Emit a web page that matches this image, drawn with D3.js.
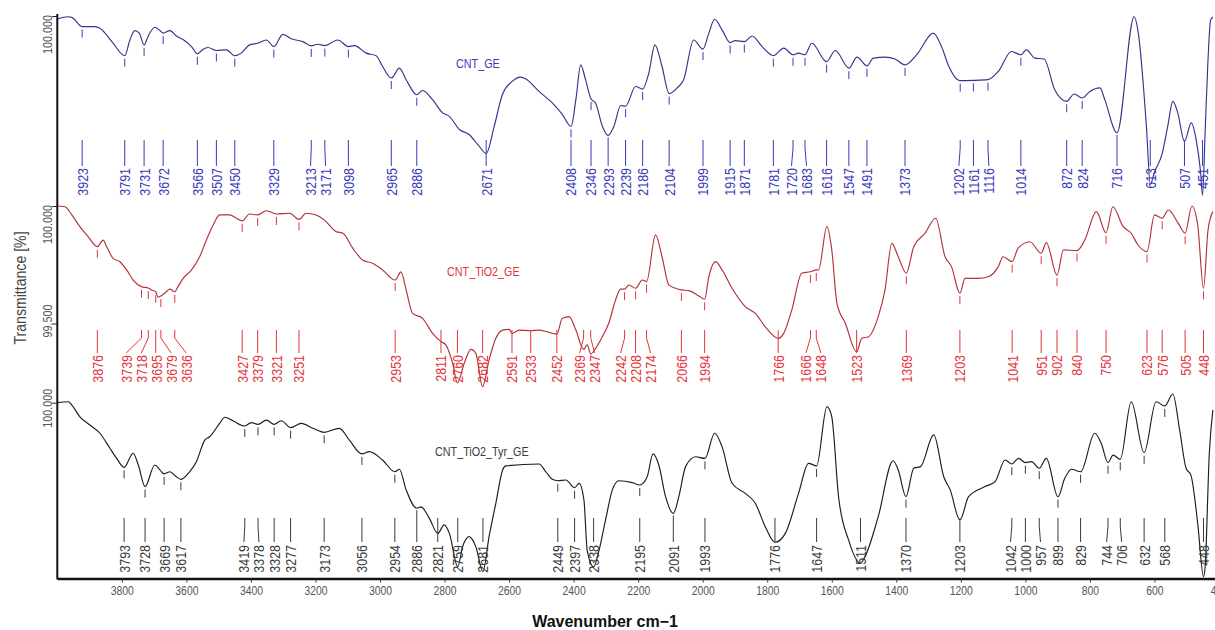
<!DOCTYPE html>
<html>
<head>
<meta charset="utf-8">
<script src="https://cdn.jsdelivr.net/npm/d3@7"></script>
<style>
  html, body { margin: 0; padding: 0; background: #fff; }
  svg { display: block; }
  text { font-family: "Liberation Sans", Arial, sans-serif; }
</style>
</head>
<body>
<svg id="chart" width="1215" height="630"></svg>
<script>
// ---- wavenumber axis ----
const xTicks = [3800, 3600, 3400, 3200, 3000, 2800, 2600, 2400, 2200, 2000, 1800, 1600, 1400, 1200, 1000, 800, 600, 400];
const seriesNames = ["CNT_GE", "CNT_TiO2_GE", "CNT_TiO2_Tyr_GE"];

// ---- CNT_GE spectrum (wavenumber, %T) ----
const geWave = [4000,3967,3955,3923,3883,3868,3828,3791,3775,3760,3746,3731,3719,3698,3682,3672,3651,3631,3605,3584,3566,3548,3533,3507,3476,3450,3430,3404,3379,3352,3329,3301,3275,3239,3213,3193,3171,3131,3098,3079,3043,3012,2992,2965,2940,2919,2886,2868,2837,2806,2785,2754,2724,2693,2671,2646,2621,2590,2564,2548,2507,2466,2435,2408,2393,2378,2363,2346,2332,2311,2293,2275,2254,2239,2208,2186,2167,2148,2126,2104,2079,2059,2028,1999,1981,1963,1940,1915,1899,1871,1847,1816,1781,1749,1720,1703,1683,1662,1616,1589,1547,1522,1491,1471,1435,1404,1373,1337,1285,1260,1237,1213,1202,1161,1116,1084,1043,1014,997,971,942,909,872,849,824,800,769,754,716,663,650,625,613,600,575,559,543,528,507,486,471,457,451,443,435,426,419];
const geT = [99.987,99.997,99.994,99.955,99.955,99.948,99.886,99.831,99.898,99.938,99.927,99.877,99.912,99.952,99.938,99.927,99.938,99.915,99.895,99.870,99.839,99.859,99.866,99.853,99.856,99.831,99.842,99.877,99.884,99.898,99.870,99.922,99.903,99.891,99.873,99.880,99.874,99.898,99.870,99.874,99.842,99.831,99.785,99.736,99.778,99.729,99.665,99.683,99.644,99.588,99.573,99.517,99.496,99.446,99.415,99.531,99.665,99.722,99.740,99.732,99.679,99.630,99.581,99.530,99.644,99.792,99.729,99.647,99.630,99.531,99.492,99.531,99.619,99.616,99.700,99.689,99.757,99.877,99.785,99.670,99.694,99.729,99.898,99.859,99.927,99.986,99.941,99.887,99.895,99.891,99.915,99.870,99.831,99.863,99.835,99.842,99.835,99.884,99.806,99.853,99.778,99.825,99.788,99.821,99.825,99.817,99.792,99.835,99.927,99.870,99.785,99.732,99.725,99.726,99.729,99.764,99.849,99.835,99.856,99.821,99.817,99.686,99.637,99.668,99.651,99.679,99.694,99.644,99.503,99.997,99.927,99.531,99.284,99.335,99.420,99.530,99.637,99.589,99.467,99.545,99.475,99.335,99.237,99.504,99.785,99.983,99.996];
const gePeaks = [3923,3791,3731,3672,3566,3507,3450,3329,3213,3171,3098,2965,2886,2671,2408,2346,2293,2239,2186,2104,1999,1915,1871,1781,1720,1683,1616,1547,1491,1373,1202,1161,1116,1014,872,824,716,613,507,451];

// ---- CNT_TiO2_GE spectrum ----
const tio2Wave = [4000,3976,3955,3930,3904,3876,3858,3847,3827,3806,3785,3765,3739,3718,3708,3695,3688,3679,3667,3651,3636,3626,3610,3584,3559,3538,3517,3497,3466,3445,3427,3404,3379,3352,3321,3280,3251,3229,3198,3172,3136,3115,3084,3054,3023,2992,2953,2935,2919,2899,2868,2837,2811,2796,2775,2760,2739,2718,2703,2682,2662,2641,2620,2600,2591,2569,2533,2507,2452,2435,2414,2393,2369,2358,2347,2332,2311,2291,2270,2254,2242,2229,2208,2187,2174,2146,2126,2105,2084,2066,2043,2012,1994,1981,1960,1940,1909,1868,1837,1806,1766,1749,1724,1693,1666,1648,1641,1615,1600,1584,1558,1523,1507,1486,1456,1435,1414,1394,1369,1346,1311,1278,1249,1229,1203,1187,1146,1115,1084,1069,1041,1023,986,951,935,902,882,840,816,780,750,729,697,672,651,623,600,576,557,526,505,484,466,448,434,419];
const tio2T = [100.000,99.997,99.962,99.912,99.869,99.827,99.855,99.827,99.777,99.763,99.728,99.685,99.657,99.651,99.643,99.635,99.612,99.617,99.629,99.646,99.635,99.657,99.692,99.728,99.784,99.855,99.919,99.962,99.962,99.948,99.937,99.966,99.962,99.980,99.966,99.969,99.943,99.969,99.962,99.940,99.891,99.884,99.820,99.770,99.756,99.728,99.685,99.720,99.643,99.543,99.522,99.458,99.423,99.409,99.331,99.247,99.331,99.390,99.373,99.231,99.345,99.437,99.472,99.475,99.458,99.472,99.469,99.472,99.455,99.522,99.529,99.472,99.390,99.409,99.370,99.394,99.444,99.501,99.600,99.646,99.646,99.664,99.650,99.685,99.678,99.877,99.784,99.664,99.650,99.643,99.640,99.617,99.603,99.699,99.763,99.728,99.650,99.572,99.543,99.486,99.437,99.458,99.557,99.714,99.720,99.728,99.728,99.912,99.813,99.586,99.501,99.380,99.437,99.444,99.529,99.643,99.841,99.784,99.714,99.827,99.884,99.948,99.784,99.742,99.629,99.692,99.692,99.699,99.742,99.784,99.763,99.820,99.848,99.799,99.844,99.706,99.813,99.810,99.855,99.976,99.886,99.997,99.912,99.884,99.834,99.806,99.962,99.948,99.983,99.926,99.884,100.000,99.919,99.650,99.898,99.976];
const tio2Peaks = [3876,3739,3718,3695,3679,3636,3427,3379,3321,3251,2953,2811,2760,2682,2591,2533,2452,2369,2347,2242,2208,2174,2066,1994,1766,1666,1648,1523,1369,1203,1041,951,902,840,750,623,576,505,448];

// ---- CNT_TiO2_Tyr_GE spectrum ----
const tyrWave = [4000,3966,3955,3930,3899,3868,3837,3816,3793,3765,3749,3728,3698,3682,3669,3651,3631,3617,3590,3569,3543,3528,3497,3481,3456,3419,3399,3378,3352,3328,3306,3277,3244,3208,3173,3126,3095,3056,3033,2992,2954,2940,2919,2886,2873,2847,2821,2801,2785,2759,2744,2724,2703,2681,2662,2641,2620,2610,2507,2486,2466,2449,2424,2397,2383,2368,2358,2338,2321,2301,2280,2260,2218,2195,2172,2154,2136,2115,2091,2074,2053,2022,1993,1963,1940,1909,1868,1837,1806,1776,1744,1703,1672,1647,1615,1600,1579,1548,1511,1497,1456,1410,1394,1370,1346,1325,1284,1253,1233,1203,1176,1125,1094,1063,1042,1021,1000,981,957,935,899,878,857,829,785,765,744,728,706,672,632,595,568,543,522,502,487,466,448,443,430,419];
const tyrT = [100.000,100.004,99.990,99.940,99.905,99.870,99.806,99.763,99.725,99.785,99.735,99.643,99.735,99.714,99.697,99.706,99.685,99.674,99.706,99.749,99.841,99.855,99.912,99.938,99.923,99.901,99.915,99.908,99.926,99.908,99.923,99.894,99.912,99.891,99.874,99.891,99.841,99.782,99.792,99.756,99.706,99.717,99.629,99.551,99.557,99.508,99.444,99.480,99.444,99.302,99.387,99.430,99.387,99.281,99.430,99.572,99.714,99.731,99.739,99.706,99.674,99.668,99.671,99.638,99.657,99.586,99.373,99.302,99.373,99.501,99.629,99.668,99.660,99.650,99.685,99.782,99.735,99.600,99.529,99.600,99.728,99.770,99.763,99.870,99.813,99.657,99.614,99.572,99.472,99.406,99.444,99.614,99.742,99.731,99.983,99.940,99.600,99.416,99.317,99.345,99.515,99.753,99.714,99.600,99.721,99.728,99.863,99.685,99.629,99.501,99.600,99.643,99.664,99.756,99.739,99.763,99.745,99.749,99.721,99.763,99.600,99.678,99.717,99.706,99.870,99.827,99.745,99.777,99.759,100.004,99.787,100.004,99.986,100.037,99.884,99.721,99.692,99.487,99.260,99.302,99.785,99.969];
const tyrPeaks = [3793,3728,3669,3617,3419,3378,3328,3277,3173,3056,2954,2886,2821,2759,2681,2449,2397,2338,2195,2091,1993,1776,1647,1511,1370,1203,1042,1000,957,899,829,744,706,632,568,448];

// ---- layout / style ----
const W = 1215, H = 630;
const axisX = 57.3, axisY = 578.5;
const PX_PER_PCT = 235;           // vertical pixels per 1 %T
const CONDENSE = 0.83;            // horizontal squeeze of all labels

const panels = [
  { name: seriesNames[0], wave: geWave, t: geT, peaks: gePeaks,
    top: 16, ticks: [100], tickShift: [18],
    curve: "#34348e", ink: "#3a3ab8",
    nameX: 456, nameY: 68,
    lineTop: 140, lineBottom: 166, textTop: 168 },
  { name: seriesNames[1], wave: tio2Wave, t: tio2T, peaks: tio2Peaks,
    top: 206, ticks: [100, 99.5], tickShift: [18, -3],
    curve: "#b3313a", ink: "#e3343c",
    nameX: 447, nameY: 276,
    lineTop: 330, lineBottom: 353, textTop: 355 },
  { name: seriesNames[2], wave: tyrWave, t: tyrT, peaks: tyrPeaks,
    top: 402.7, ticks: [100], tickShift: [5],
    curve: "#1c1c1c", ink: "#3a3a3a",
    nameX: 435, nameY: 456,
    lineTop: 518, lineBottom: 542, textTop: 545 }
];

const svg = d3.select("#chart");
svg.append("rect").attr("width", W).attr("height", H).attr("fill", "#fff");

const x = d3.scaleLinear().domain([4000, 400]).range([axisX, 1219]);

panels.forEach(p => {
  p.y = d3.scaleLinear().domain([100, 99]).range([p.top, p.top + PX_PER_PCT]);
  p.points = p.wave.map((w, i) => ({ w, t: p.t[i] }));
});

// value of a spectrum at a given wavenumber
function valueAt(p, w) {
  const i = p.wave.indexOf(w);
  if (i >= 0) return p.t[i];
  for (let k = 0; k < p.wave.length - 1; k++) {
    const a = p.wave[k], b = p.wave[k + 1];
    if (w <= a && w >= b) {
      const f = (a - w) / (a - b);
      return p.t[k] + f * (p.t[k + 1] - p.t[k]);
    }
  }
  return p.t[p.t.length - 1];
}

// push crowded label positions apart, keeping each group centred on its anchors
function spread(xs, gap) {
  const clusters = [];
  xs.forEach((xv, i) => {
    clusters.push({ start: i, n: 1, sum: xv });
    while (clusters.length > 1) {
      const b = clusters[clusters.length - 1], a = clusters[clusters.length - 2];
      const aPos = a.sum / a.n, bPos = b.sum / b.n;
      if (aPos + a.n * gap > bPos) {
        a.sum = a.sum + b.sum - b.n * a.n * gap;
        a.n += b.n;
        clusters.pop();
      } else break;
    }
  });
  const out = [];
  clusters.forEach(c => {
    const p0 = c.sum / c.n;
    for (let k = 0; k < c.n; k++) out.push(p0 + k * gap);
  });
  return out;
}

// ---- spectra ----
const line = d3.line().x(d => x(d.w)).curve(d3.curveMonotoneX);
const plot = svg.append("g");

panels.forEach(p => {
  plot.append("path")
    .datum(p.points)
    .attr("fill", "none")
    .attr("stroke", p.curve)
    .attr("stroke-width", 1.15)
    .attr("stroke-linejoin", "round")
    .attr("d", line.y(d => p.y(d.t)));

  // series name
  plot.append("text")
    .attr("transform", `translate(${p.nameX},${p.nameY}) scale(${CONDENSE},1)`)
    .attr("font-size", 13)
    .attr("fill", p.ink)
    .text(p.name);

  // peak markers and labels
  const anchors = p.peaks.map(w => x(w));
  const spots = spread(anchors, 15);
  const g = plot.append("g").attr("stroke", p.ink).attr("fill", p.ink);

  p.peaks.forEach((w, i) => {
    const px = anchors[i], lx = spots[i];
    const cy = p.y(valueAt(p, w));
    let top = p.lineTop;
    if (cy + 3 + 8 >= p.lineTop) {
      // curve dips near the label row: run the label line up to the curve
      if (cy + 2 < p.lineTop) top = cy + 2;
    } else {
      g.append("line")
        .attr("x1", px).attr("x2", px)
        .attr("y1", cy + 3).attr("y2", cy + 11)
        .attr("stroke-width", 1);
    }
    const bottom = p.lineBottom;
    let d;
    if (Math.abs(lx - px) < 0.6) {
      d = `M${px},${top}V${bottom}`;
    } else {
      const bend = Math.max(top, p.lineTop + 8);
      d = `M${px},${top}V${bend}L${lx},${bottom}`;
    }
    g.append("path").attr("d", d).attr("fill", "none").attr("stroke-width", 1);

    g.append("text")
      .attr("stroke", "none")
      .attr("font-size", 15)
      .attr("text-anchor", "end")
      .attr("dy", "0.36em")
      .attr("transform", `translate(${lx},${p.textTop}) rotate(-90) scale(${CONDENSE},1)`)
      .text(w);
  });
});

// ---- x axis ----
const xAxisG = svg.append("g")
  .attr("transform", `translate(0,${axisY})`)
  .call(d3.axisBottom(x).tickValues(xTicks).tickFormat(d3.format("d"))
    .tickSize(4).tickSizeOuter(0).tickPadding(4));
xAxisG.select(".domain").attr("stroke", "#111").attr("stroke-width", 2.4);
xAxisG.selectAll(".tick line").attr("stroke", "#333");
xAxisG.selectAll(".tick text")
  .attr("font-family", "Liberation Sans, Arial, sans-serif")
  .attr("font-size", 12.5)
  .attr("fill", "#555")
  .attr("transform", `scale(${CONDENSE},1)`);

// ---- y axes (one tick set per spectrum) ----
svg.append("line")
  .attr("x1", axisX).attr("x2", axisX)
  .attr("y1", 14).attr("y2", axisY + 1)
  .attr("stroke", "#111").attr("stroke-width", 2);

panels.forEach(p => {
  const ya = svg.append("g")
    .attr("transform", `translate(${axisX},0)`)
    .call(d3.axisLeft(p.y).tickValues(p.ticks).tickSize(5).tickFormat(d3.format(".3f")));
  ya.select(".domain").remove();
  ya.selectAll(".tick line").attr("stroke", "#222");
  ya.selectAll(".tick text")
    .attr("x", null).attr("y", null)
    .attr("dy", "0.36em")
    .attr("text-anchor", "middle")
    .attr("font-family", "Liberation Sans, Arial, sans-serif")
    .attr("font-size", 13)
    .attr("fill", "#555")
    .attr("transform", (d, i) => `translate(-10,${p.tickShift[i]}) rotate(-90) scale(${CONDENSE},1)`);
});

// ---- axis titles ----
svg.append("text")
  .attr("transform", `translate(20,288) rotate(-90) scale(${CONDENSE},1)`)
  .attr("text-anchor", "middle")
  .attr("dy", "0.36em")
  .attr("font-size", 17)
  .attr("fill", "#444")
  .text("Transmittance [%]");

svg.append("text")
  .attr("x", 605).attr("y", 627)
  .attr("text-anchor", "middle")
  .attr("font-size", 16)
  .attr("font-weight", "bold")
  .attr("fill", "#111")
  .text("Wavenumber cm\u22121");
</script>
</body>
</html>
